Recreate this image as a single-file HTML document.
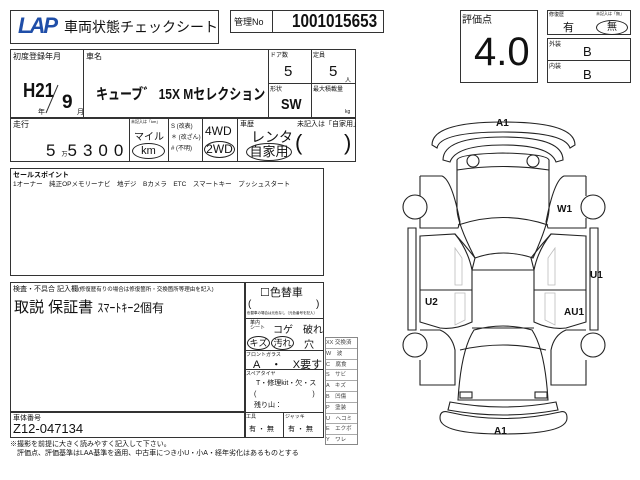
<!DOCTYPE html><html><head><meta charset="utf-8"><style>
body{margin:0;width:640px;height:480px;background:#fff;position:relative;overflow:hidden;font-family:"Liberation Sans","Noto Sans CJK JP",sans-serif;color:#111}
.a{position:absolute;white-space:nowrap}
.b{position:absolute;border:1.5px solid #333;box-sizing:border-box}
.l{position:absolute;background:#333}
.s{font-size:7px}
.c{transform-origin:0 0}
</style></head><body>
<div class="b" style="left:10px;top:10px;width:209px;height:34px"></div>
<div class="a" style="left:18px;top:13px;font-size:22px;font-weight:bold;font-style:italic;color:#1f4ea8;letter-spacing:-2px">LAP</div>
<div class="a" style="left:64px;top:17px;font-size:14px">車両状態チェックシート</div>
<div class="b" style="left:230px;top:10px;width:154px;height:23px"></div>
<div class="l" style="left:272px;top:10px;width:1px;height:23px"></div>
<div class="a" style="left:234px;top:15px;font-size:9px">管理No</div>
<div class="a c" style="left:292px;top:11px;font-size:18px;font-weight:bold;transform:scaleX(0.85)">1001015653</div>
<div class="b" style="left:10px;top:49px;width:346px;height:113px"></div>
<div class="l" style="left:10px;top:117px;width:346px;height:1.5px"></div>
<div class="l" style="left:83px;top:49px;width:1px;height:68px"></div>
<div class="l" style="left:268px;top:49px;width:1px;height:68px"></div>
<div class="l" style="left:311px;top:49px;width:1px;height:68px"></div>
<div class="l" style="left:268px;top:83px;width:88px;height:1px"></div>
<div class="l" style="left:129px;top:117px;width:1px;height:45px"></div>
<div class="l" style="left:168px;top:117px;width:1px;height:45px"></div>
<div class="l" style="left:202px;top:117px;width:1px;height:45px"></div>
<div class="l" style="left:237px;top:117px;width:1px;height:45px"></div>
<div class="a s" style="left:13px;top:51px;font-size:8px">初度登録年月</div>
<div class="a c" style="left:23px;top:80px;font-size:20px;font-weight:bold;transform:scaleX(0.85)">H21</div>
<svg style="position:absolute;left:0;top:0" width="100" height="120"><line x1="46" y1="113" x2="58" y2="85" stroke="#333" stroke-width="1"/></svg>
<div class="a" style="left:62px;top:92px;font-size:19px;font-weight:bold">9</div>
<div class="a s" style="left:38px;top:107px">年</div><div class="a s" style="left:77px;top:107px">月</div>
<div class="a s" style="left:86px;top:51px;font-size:8px">車名</div>
<div class="a c" style="left:96px;top:83px;font-size:15px;font-weight:bold;transform:scaleX(0.8)">キューブ゛ 15X Mセレクション</div>
<div class="a s" style="left:270px;top:50px;font-size:6px">ドア数</div>
<div class="a" style="left:284px;top:63px;font-size:15px">5</div>
<div class="a s" style="left:313px;top:50px;font-size:6px">定員</div>
<div class="a" style="left:329px;top:63px;font-size:15px">5</div><div class="a s" style="left:345px;top:75px;font-size:6px">人</div>
<div class="a s" style="left:270px;top:84px;font-size:6px">形状</div>
<div class="a c" style="left:281px;top:96px;font-size:15px;font-weight:bold;transform:scaleX(0.85)">SW</div>
<div class="a s" style="left:313px;top:84px;font-size:6px">最大積載量</div>
<div class="a s" style="left:345px;top:109px;font-size:5px">kg</div>
<div class="a s" style="left:13px;top:119px;font-size:8px">走行</div>
<div class="a" style="left:46px;top:141px;font-size:17px;letter-spacing:6px">5<span style="font-size:6px;letter-spacing:0">万</span>5300</div>
<div class="a" style="left:131px;top:119px;font-size:4px">未記入は「km」</div>
<div class="a" style="left:134px;top:128px;font-size:10px">マイル</div>
<div class="a" style="left:132px;top:143px;width:31px;height:14px;border:1.3px solid #222;border-radius:50%;font-size:11px;text-align:center;line-height:14px">km</div>
<div class="a" style="left:171px;top:122px;font-size:6px;line-height:11px">S (改表)<br>＊ (改ざん)<br># (不明)</div>
<div class="a" style="left:205px;top:124px;font-size:12px">4WD</div>
<div class="a" style="left:204px;top:141px;width:29px;height:15px;border:1.3px solid #222;border-radius:50%;font-size:12px;text-align:center;line-height:15px">2WD</div>
<div class="a s" style="left:240px;top:119px">車歴</div>
<div class="a" style="left:297px;top:119px;font-size:7px">未記入は「自家用」</div>
<div class="a" style="left:251px;top:127px;font-size:14px">レンタ</div>
<div class="a" style="left:246px;top:143px;width:44px;height:16px;border:1.3px solid #222;border-radius:50%;font-size:13px;text-align:center;line-height:16px">自家用</div>
<div class="a" style="left:295px;top:130px;font-size:22px;font-weight:100">(</div>
<div class="a" style="left:344px;top:130px;font-size:22px;font-weight:100">)</div>
<div class="b" style="left:10px;top:168px;width:314px;height:108px"></div>
<div class="a" style="left:13px;top:170px;font-size:7px;font-weight:bold">セールスポイント</div>
<div class="a" style="left:13px;top:178px;font-size:6.5px;word-spacing:4px">1オーナー　純正OPメモリーナビ　地デジ　Bカメラ　ETC　スマートキー　プッシュスタート</div>
<div class="b" style="left:10px;top:282px;width:314px;height:156px"></div>
<div class="l" style="left:244px;top:282px;width:1.5px;height:156px"></div>
<div class="l" style="left:10px;top:411px;width:234px;height:1.5px"></div>
<div class="a" style="left:13px;top:284px;font-size:7px">検査・不具合 記入欄<span style="font-size:5.5px">(修復歴有りの場合は修復箇所・交換箇所等理由を記入)</span></div>
<div class="a" style="left:14px;top:296px;font-size:15px">取説 保証書 <span style="font-size:12px">ｽﾏｰﾄｷｰ2個有</span></div>
<div class="a" style="left:13px;top:413px;font-size:7px">車体番号</div>
<div class="a" style="left:13px;top:421px;font-size:13px">Z12-047134</div>
<div class="a" style="left:260px;top:284px;font-size:11px">☐色替車</div>
<div class="a" style="left:248px;top:299px;font-size:10px">(</div><div class="a" style="left:316px;top:299px;font-size:10px">)</div>
<div class="a" style="left:247px;top:311px;font-size:3.5px">色替車の場合は元色なし（元色番号を記入）</div>
<div class="l" style="left:244px;top:318px;width:80px;height:1px"></div>
<div class="a" style="left:250px;top:321px;font-size:5px;line-height:5px">革内<br>シート</div>
<div class="a" style="left:273px;top:321px;font-size:10px">コゲ　破れ</div>
<div class="a" style="left:247px;top:336px;width:21px;height:12px;border:1px solid #222;border-radius:50%;font-size:9px;text-align:center;line-height:12px">キズ</div>
<div class="a" style="left:271px;top:336px;width:21px;height:12px;border:1px solid #222;border-radius:50%;font-size:9px;text-align:center;line-height:12px">汚れ</div>
<div class="a" style="left:304px;top:336px;font-size:10px">穴</div>
<div class="l" style="left:244px;top:350px;width:80px;height:1px"></div>
<div class="a" style="left:246px;top:351px;font-size:5px">フロントガラス</div>
<div class="a" style="left:253px;top:356px;font-size:11px">A　・　X要す</div>
<div class="l" style="left:244px;top:369px;width:80px;height:1px"></div>
<div class="a" style="left:246px;top:370px;font-size:5px">スペアタイヤ</div>
<div class="a" style="left:256px;top:378px;font-size:7px">T・修理kit・欠・ス</div>
<div class="a" style="left:254px;top:389px;font-size:7px">(　　　　　　　　)</div>
<div class="a" style="left:254px;top:400px;font-size:7px">残り山：</div>
<div class="l" style="left:244px;top:412px;width:80px;height:1px"></div>
<div class="l" style="left:283px;top:412px;width:1px;height:26px"></div>
<div class="a" style="left:246px;top:413px;font-size:5px">工具</div><div class="a" style="left:285px;top:413px;font-size:5px">ジャッキ</div>
<div class="a" style="left:249px;top:424px;font-size:7px">有 ・ 無</div><div class="a" style="left:288px;top:424px;font-size:7px">有 ・ 無</div>
<div style="position:absolute;left:325px;top:337px;width:31px;border:1px solid #888;font-size:5.5px;color:#444">
<div style="height:9.8px;border-bottom:1px solid #aaa">XX 交換済</div><div style="height:9.8px;border-bottom:1px solid #aaa">W　波</div><div style="height:9.8px;border-bottom:1px solid #aaa">C　腐食</div><div style="height:9.8px;border-bottom:1px solid #aaa">S　サビ</div><div style="height:9.8px;border-bottom:1px solid #aaa">A　キズ</div><div style="height:9.8px;border-bottom:1px solid #aaa">B　凹傷</div><div style="height:9.8px;border-bottom:1px solid #aaa">P　塗装</div><div style="height:9.8px;border-bottom:1px solid #aaa">U　ヘコミ</div><div style="height:9.8px;border-bottom:1px solid #aaa">E　エクボ</div><div style="height:9px">Y　ワレ</div></div>
<div class="a" style="left:10px;top:440px;font-size:7px;line-height:9px">※撮影を前提に大きく読みやすく記入して下さい。<br>　評価点、評価基準はLAA基準を適用、中古車につき小U・小A・経年劣化はあるものとする</div>
<div class="b" style="left:460px;top:10px;width:78px;height:73px"></div>
<div class="a" style="left:462px;top:11px;font-size:10px">評価点</div>
<div class="a" style="left:474px;top:30px;font-size:40px">4.0</div>
<div class="b" style="left:547px;top:10px;width:84px;height:25px"></div>
<div class="a" style="left:549px;top:11px;font-size:5px">修復歴</div><div class="a" style="left:596px;top:11px;font-size:4px">未記入は「無」</div>
<div class="a" style="left:563px;top:19px;font-size:11px">有</div>
<div class="a" style="left:596px;top:20px;width:30px;height:13px;border:1.2px solid #222;border-radius:50%;font-size:10px;text-align:center;line-height:13px">無</div>
<div class="b" style="left:547px;top:38px;width:84px;height:45px"></div>
<div class="l" style="left:547px;top:60px;width:84px;height:1px"></div>
<div class="a" style="left:549px;top:39px;font-size:6px">外装</div><div class="a" style="left:583px;top:44px;font-size:13px">B</div>
<div class="a" style="left:549px;top:61px;font-size:6px">内装</div><div class="a" style="left:583px;top:67px;font-size:13px">B</div>
<svg style="position:absolute;left:0;top:0" width="640" height="480" fill="none" stroke="#222" stroke-width="1.1">
<path d="M432,145 Q432,122 503,122 Q575,122 575,145 L570,148 Q565,132 503,132 Q440,132 437,148 Z"/>
<path d="M443,160 Q443,137 503,137 Q563,137 563,160 L556,162 Q550,145 503,145 Q456,145 450,162 Z"/>
<path d="M457,160 L457,210 Q458,225 475,258 Q503,248 533,258 Q548,225 549,210 L549,160 Q547,154 503,153 Q459,154 457,160 Z"/>
<path d="M457,170 Q503,163 549,170"/><path d="M458,225 Q503,210 548,225"/>
<circle cx="473" cy="161" r="6"/><circle cx="533" cy="161" r="6"/>
<path d="M420,176 L442,176 Q452,180 460,222 L458,228 L420,228 L420,218 M420,176 L420,196"/>
<path d="M586,176 L564,176 Q554,180 546,222 L548,228 L586,228 L586,218 M586,176 L586,196"/>
<circle cx="415" cy="207" r="12"/><circle cx="593" cy="207" r="12"/>
<circle cx="415" cy="345" r="12"/><circle cx="593" cy="345" r="12"/>
<path d="M408,228 L416,228 L416,330 L408,330 Z"/><path d="M590,228 L598,228 L598,330 L590,330 Z"/>
<path d="M420,236 L455,234 Q468,250 472,270 L472,322 Q455,330 440,328 L420,322 Z"/><path d="M420,290 L472,290"/>
<path d="M586,236 L551,234 Q538,250 534,270 L534,322 Q551,330 566,328 L586,322 Z"/><path d="M534,290 L586,290"/>
<path d="M455,234 Q465,245 475,258 L472,270"/><path d="M551,234 Q541,245 531,258 L534,270"/>
<path d="M472,270 L534,270 M472,328 L534,328"/>
<path d="M474,330 Q503,322 532,330 Q545,350 548,400 L458,400 Q461,350 474,330 Z"/>
<path d="M460,350 Q503,340 546,350"/>
<path d="M420,330 L440,330 Q452,335 455,350 L455,385 L420,385 L420,360"/>
<path d="M586,330 L566,330 Q554,335 551,350 L551,385 L586,385 L586,360"/>
<rect x="460" y="392" width="12" height="6"/><rect x="535" y="392" width="12" height="6"/>
<path d="M450,402 Q503,412 556,402 L558,410 Q503,420 448,410 Z"/>
<path d="M440,418 Q440,410 448,412 Q503,425 560,412 Q567,410 567,418 Q567,434 503,434 Q440,434 440,418 Z"/>
<g stroke="#bbb" stroke-width="0.8"><path d="M455,248 L462,258 L462,285 L455,285 Z M555,248 L548,258 L548,285 L555,285 Z M455,293 L465,293 L465,320 L455,325 Z M555,293 L545,293 L545,320 L555,325 Z"/></g>
</svg>
<div class="a" style="left:496px;top:118px;font-size:10px;font-weight:bold">A1</div>
<div class="a" style="left:494px;top:426px;font-size:10px;font-weight:bold">A1</div>
<div class="a" style="left:557px;top:204px;font-size:10px;font-weight:bold">W1</div>
<div class="a" style="left:590px;top:270px;font-size:10px;font-weight:bold">U1</div>
<div class="a" style="left:425px;top:297px;font-size:10px;font-weight:bold">U2</div>
<div class="a" style="left:564px;top:307px;font-size:10px;font-weight:bold">AU1</div>
</body></html>
